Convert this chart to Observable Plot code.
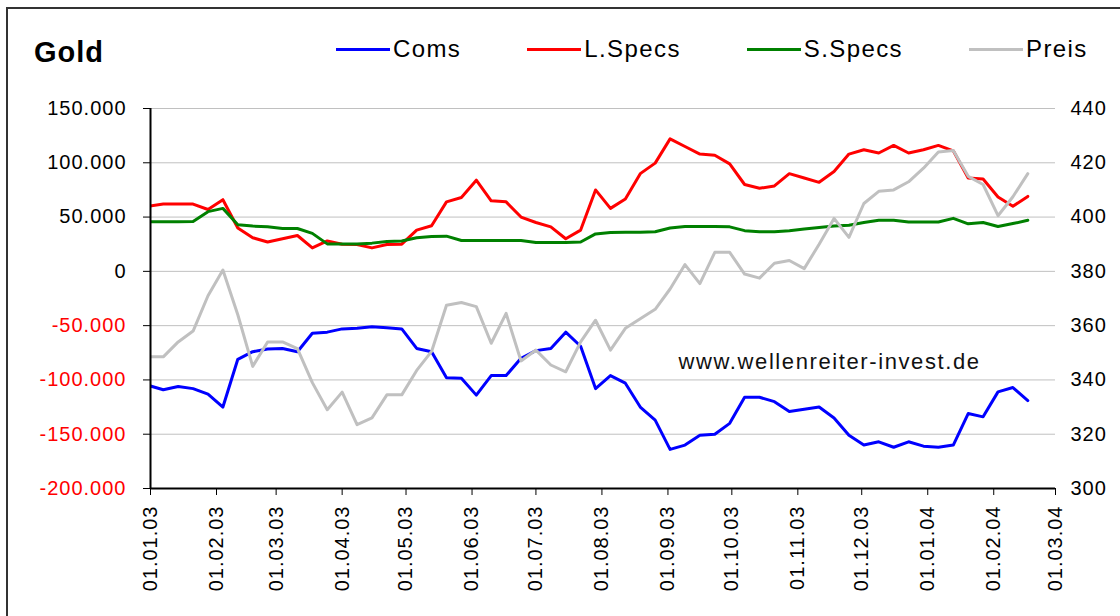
<!DOCTYPE html>
<html>
<head>
<meta charset="utf-8">
<script src="https://cdn.jsdelivr.net/npm/d3@7"></script>
<script src="https://cdn.jsdelivr.net/npm/@observablehq/plot@0.6"></script>
<style>
  html, body { margin: 0; padding: 0; background: #fff; }
  #wrap { position: relative; width: 1120px; height: 616px; overflow: hidden; background: #fff;
          font-family: "Liberation Sans", Arial, sans-serif; color: #000; }
  #frame { position: absolute; left: 6px; top: 7px; width: 1300px; height: 800px;
           border: 2px solid #333; box-sizing: border-box; pointer-events: none; }
  #title { position: absolute; left: 34px; top: 38px; font-weight: bold; font-size: 29px;
           line-height: 29px; letter-spacing: 1px; }
  #legend { position: absolute; left: 336px; top: 37px; display: flex; align-items: center; gap: 66px;
            font-size: 24px; line-height: 24px; letter-spacing: 1.4px; }
  .item { display: flex; align-items: center; }
  .sw { width: 54px; height: 3px; margin-right: 3px; }
  #chart { position: absolute; left: 0; top: 80px; }
</style>
</head>
<body>
<div id="wrap">
  <div id="title">Gold</div>
  <div id="legend"></div>
  <div id="chart"></div>
  <div id="frame"></div>
</div>
<script>
// Weekly report dates (Tuesdays)
const dates = [
  "2002-12-31","2003-01-07","2003-01-14","2003-01-21","2003-01-28","2003-02-04","2003-02-11","2003-02-18","2003-02-25",
  "2003-03-04","2003-03-11","2003-03-18","2003-03-25","2003-04-01","2003-04-08","2003-04-15","2003-04-22","2003-04-29",
  "2003-05-06","2003-05-13","2003-05-20","2003-05-27","2003-06-03","2003-06-10","2003-06-17","2003-06-24","2003-07-01",
  "2003-07-08","2003-07-15","2003-07-22","2003-07-29","2003-08-05","2003-08-12","2003-08-19","2003-08-26","2003-09-02",
  "2003-09-09","2003-09-16","2003-09-23","2003-09-30","2003-10-07","2003-10-14","2003-10-21","2003-10-28","2003-11-04",
  "2003-11-11","2003-11-18","2003-11-25","2003-12-02","2003-12-09","2003-12-16","2003-12-23","2003-12-30","2004-01-06",
  "2004-01-13","2004-01-20","2004-01-27","2004-02-03","2004-02-10","2004-02-17"
];

const coms = [
  -105000,-109000,-106000,-108000,-113000,-125000,-81000,-74000,-71500,
  -71000,-74000,-57000,-56000,-53000,-52500,-51000,-52000,-53000,
  -71000,-74000,-98000,-98500,-114000,-96000,-96000,-80000,-73000,
  -71000,-56000,-69000,-108000,-96000,-103000,-125000,-137000,-164000,
  -160000,-151000,-150000,-140000,-116000,-116000,-120000,-129000,-127000,
  -125000,-135000,-151000,-160000,-157000,-162000,-157000,-161000,-162000,
  -160000,-131000,-134000,-111000,-107000,-119000
];

const lSpecs = [
  60000,62000,62000,62000,57000,66000,40000,31000,27000,
  30000,33000,21600,28000,25000,24700,21600,24700,25000,
  38000,42000,64000,68000,84000,65000,64000,50000,45000,
  41000,30000,38000,75000,58000,66700,90000,99700,122000,
  115000,108000,107000,99000,80000,76500,78700,90000,86000,
  82000,92000,108000,112000,109000,116000,109000,112000,116000,
  111000,86000,85000,68500,60000,69000
];

const sSpecs = [
  45700,45700,45700,46000,55000,58000,43000,41700,41000,
  39500,39500,35000,25300,25300,25300,26000,27500,28000,
  31000,32000,32400,28400,28400,28400,28400,28400,26500,
  26500,26500,27000,34500,35800,36000,36000,36500,40000,
  41300,41300,41300,41000,37500,36500,36500,37500,39000,
  40500,41700,42500,45000,47000,47000,45400,45400,45400,
  48800,43800,45000,41300,44000,47000
];

const preis = [
  348.5,348.5,354,358,371,380.5,364,345,354,
  354,351.5,339,329,335.5,323.5,326,334.5,334.5,
  343.5,350.5,367.5,368.5,367,353.5,364.5,347,351,
  345.5,343,354,362,351,359,362.5,366,373.5,
  382.5,375.5,387,387,379,377.5,383,384,381,
  390,399.5,392.5,405,409.5,410,413,418,424,
  424.5,415,412,400.5,407.5,416
];

const seriesNames = ["Coms", "L.Specs", "S.Specs", "Preis"];
const seriesColors = ["#0000ff", "#ff0000", "#008000", "#c0c0c0"];

const leftTicks = [150000, 100000, 50000, 0, -50000, -100000, -150000, -200000];
const rightTicks = [440, 420, 400, 380, 360, 340, 320, 300];
const monthTicks = [
  "2003-01-01","2003-02-01","2003-03-01","2003-04-01","2003-05-01","2003-06-01","2003-07-01","2003-08-01",
  "2003-09-01","2003-10-01","2003-11-01","2003-12-01","2004-01-01","2004-02-01","2004-03-01"
];
const watermark = "www.wellenreiter-invest.de";

// Secondary axis mapping: price 300..440 onto -200.000..150.000
const toLeft = p => (p - 380) * 2500;
const fromLeft = v => v / 2500 + 380;

const de = d3.formatLocale({decimal: ",", thousands: ".", grouping: [3], currency: ["", "€"], minus: "-"});
const fmtLeft = de.format(",");
const fmtDate = d3.utcFormat("%d.%m.%y");

const rows = dates.map((d, i) => ({
  date: new Date(d),
  coms: coms[i], lSpecs: lSpecs[i], sSpecs: sSpecs[i], preis: toLeft(preis[i])
}));
const keys = ["coms", "lSpecs", "sSpecs", "preis"];

const xStart = new Date(monthTicks[0]);
const xEnd = new Date(monthTicks[monthTicks.length - 1]);

const chart = Plot.plot({
  width: 1120,
  height: 536,
  marginTop: 28,
  marginBottom: 128,
  marginLeft: 150,
  marginRight: 65,
  style: {fontFamily: '"Liberation Sans", Arial, sans-serif', fontSize: "20px", letterSpacing: "1px", background: "#fff", color: "#000"},
  x: {type: "utc", domain: [xStart, xEnd], label: null},
  y: {domain: [d3.min(leftTicks), d3.max(leftTicks)], label: null},
  marks: [
    Plot.gridY(leftTicks.filter(v => v > d3.min(leftTicks)), {stroke: "#c0c0c0", strokeOpacity: 1, strokeWidth: 1}),
    Plot.axisY(leftTicks.filter(v => v >= 0), {anchor: "left", tickSize: 7, tickPadding: 17, tickFormat: fmtLeft, fill: "#000", stroke: "#000", label: null}),
    Plot.axisY(leftTicks.filter(v => v < 0), {anchor: "left", tickSize: 7, tickPadding: 17, tickFormat: fmtLeft, fill: "#ff0000", stroke: "#000", label: null}),
    Plot.axisY(rightTicks.map(toLeft), {anchor: "right", tickSize: 0, tickPadding: 15, tickFormat: v => String(Math.round(fromLeft(v))), fill: "#000", label: null}),
    Plot.axisX(monthTicks.map(d => new Date(d)), {anchor: "bottom", tickSize: 7, tickPadding: 10, tickRotate: -90, tickFormat: fmtDate, stroke: "#000", fill: "#000", label: null}),
    ...keys.map((k, i) => Plot.lineY(rows, {x: "date", y: k, stroke: seriesColors[i], strokeWidth: 3, strokeLinejoin: "round", strokeLinecap: "round", clip: true})),
    Plot.ruleX([xStart], {stroke: "#000", strokeWidth: 2}),
    Plot.ruleY([d3.min(leftTicks)], {stroke: "#000", strokeWidth: 2}),
    Plot.text([watermark], {x: () => new Date("2003-09-06"), y: () => -83300, text: d => d, textAnchor: "start", fontSize: 22, fill: "#111", style: "letter-spacing:1.6px"})
  ]
});
document.getElementById("chart").appendChild(chart);
// slightly wider spacing for the watermark text
chart.querySelectorAll("text").forEach(t => { if (t.textContent === watermark) t.style.letterSpacing = "1.6px"; });

// Legend
const legend = document.getElementById("legend");
seriesNames.forEach((name, i) => {
  const item = document.createElement("div");
  item.className = "item";
  const sw = document.createElement("span");
  sw.className = "sw";
  sw.style.background = seriesColors[i];
  const label = document.createElement("span");
  label.textContent = name;
  item.appendChild(sw);
  item.appendChild(label);
  legend.appendChild(item);
});
</script>
</body>
</html>
